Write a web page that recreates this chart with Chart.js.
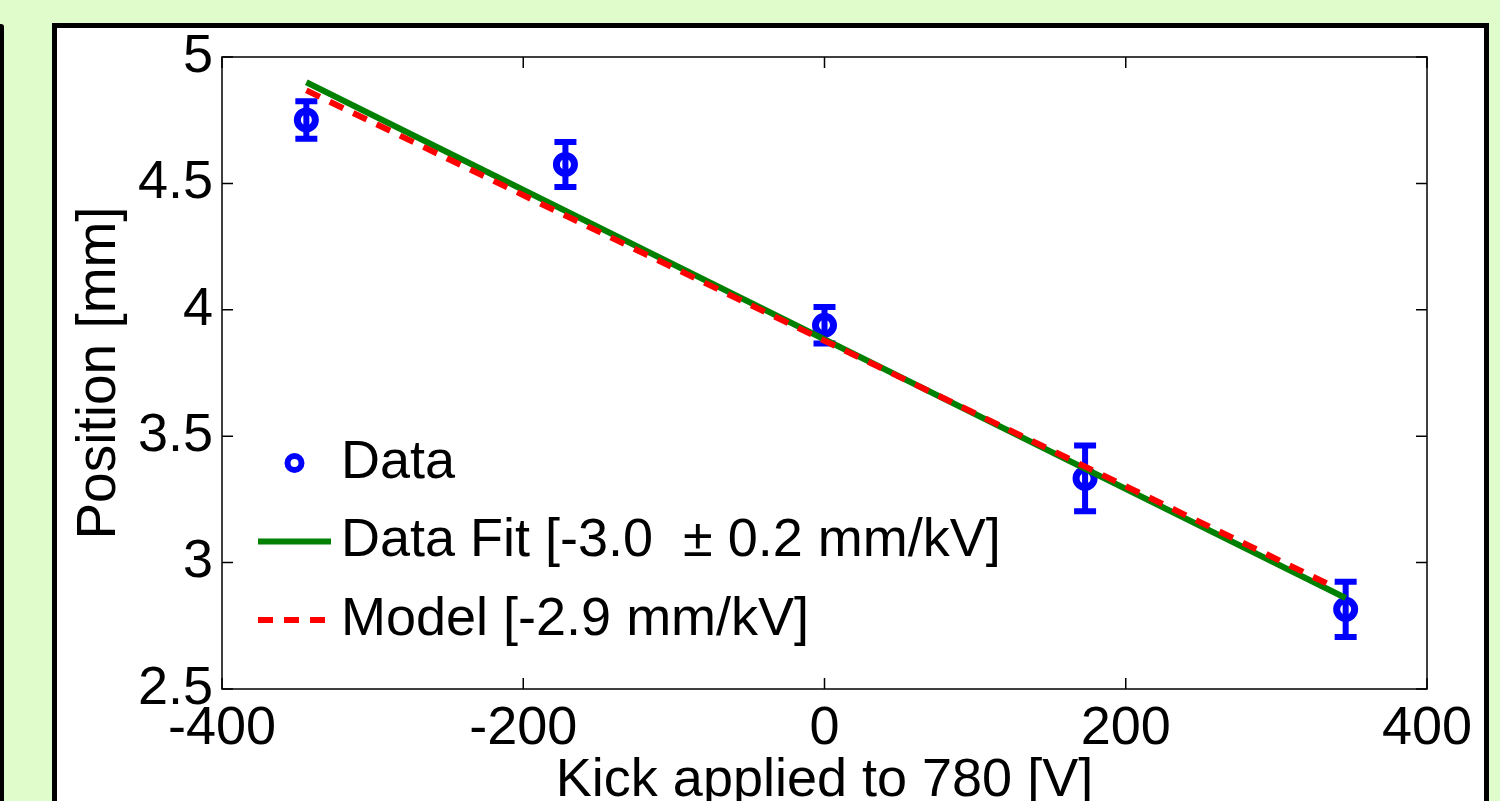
<!DOCTYPE html>
<html>
<head>
<meta charset="utf-8">
<title>Kick scan</title>
<script src="https://cdn.jsdelivr.net/npm/chart.js@4.4.0/dist/chart.umd.min.js"></script>
<style>
  html, body { margin: 0; padding: 0; }
  body { width: 1500px; height: 801px; overflow: hidden; background: #e1fccb; position: relative; }
  #sidebar { position: absolute; left: 0; top: 24px; width: 4px; height: 800px; background: #000; border-top-right-radius: 3px; }
  #frame { position: absolute; left: 52px; top: 23px; width: 1437px; height: 900px; box-sizing: border-box; border: 5px solid #000; background: #fff; }
  #plot { position: absolute; left: 0; top: 0; }
</style>
</head>
<body>
<div id="sidebar"></div>
<div id="frame"></div>
<canvas id="plot" width="1500" height="801"></canvas>
<script>
// measured points (kick voltage, beam position, error)
const kickV = [-344, -172, 0, 173, 346];
const positionMm = [4.751, 4.575, 3.939, 3.333, 2.815];
const positionErr = [0.074, 0.089, 0.072, 0.13, 0.109];

// straight lines: fit to the data and model prediction
const fitX = [-344, 346];
const fitY = [4.90, 2.86];
const modelX = [-344, 338];
const modelY = [4.868, 2.905];

const xTicks = [-400, -200, 0, 200, 400];
const xTickLabels = ['-400', '-200', '0', '200', '400'];
const yTicks = [2.5, 3, 3.5, 4, 4.5, 5];
const yTickLabels = ['2.5', '3', '3.5', '4', '4.5', '5'];

const FONT = "Arial, 'Liberation Sans', Helvetica, sans-serif";

const toPoints = (xs, ys) => xs.map((v, i) => ({ x: v, y: ys[i] }));

// matlab style box with inward ticks on all four sides
const axesBox = {
  id: 'axesBox',
  beforeDatasetsDraw(chart) {
    const { ctx, chartArea: a, scales: { x, y } } = chart;
    const len = 11;
    ctx.save();
    ctx.strokeStyle = '#000';
    ctx.lineWidth = 1.5;
    ctx.strokeRect(a.left, a.top, a.right - a.left, a.bottom - a.top);
    ctx.beginPath();
    x.ticks.forEach(t => {
      const px = x.getPixelForValue(t.value);
      ctx.moveTo(px, a.bottom); ctx.lineTo(px, a.bottom - len);
      ctx.moveTo(px, a.top); ctx.lineTo(px, a.top + len);
    });
    y.ticks.forEach(t => {
      const py = y.getPixelForValue(t.value);
      ctx.moveTo(a.left, py); ctx.lineTo(a.left + len, py);
      ctx.moveTo(a.right, py); ctx.lineTo(a.right - len, py);
    });
    ctx.stroke();

    // error bars go under the markers and lines
    ctx.strokeStyle = '#0000ff';
    ctx.lineWidth = 6;
    ctx.beginPath();
    kickV.forEach((v, i) => {
      const px = x.getPixelForValue(v);
      const top = y.getPixelForValue(positionMm[i] + positionErr[i]);
      const bot = y.getPixelForValue(positionMm[i] - positionErr[i]);
      ctx.moveTo(px, top); ctx.lineTo(px, bot);
      ctx.moveTo(px - 11, top); ctx.lineTo(px + 11, top);
      ctx.moveTo(px - 11, bot); ctx.lineTo(px + 11, bot);
    });
    ctx.stroke();
    ctx.restore();
  }
};

// legend sitting inside the axes, no box
const insideLegend = {
  id: 'insideLegend',
  afterDraw(chart, args, opts) {
    const { ctx } = chart;
    ctx.save();
    ctx.font = opts.fontSize + 'px ' + FONT;
    ctx.textBaseline = 'middle';
    chart.data.datasets.forEach((ds, i) => {
      const yy = opts.top + i * opts.rowGap;
      const x0 = opts.left, x1 = opts.left + opts.sampleWidth;
      ctx.strokeStyle = ds.borderColor;
      if (ds.showLine === false) {
        ctx.lineWidth = 6;
        ctx.beginPath();
        ctx.arc((x0 + x1) / 2, yy, 7, 0, Math.PI * 2);
        ctx.stroke();
      } else {
        ctx.lineWidth = ds.borderWidth;
        ctx.setLineDash(ds.borderDash || []);
        ctx.beginPath();
        ctx.moveTo(x0, yy); ctx.lineTo(x1, yy);
        ctx.stroke();
        ctx.setLineDash([]);
      }
      ctx.fillStyle = '#000';
      ctx.fillText(ds.label, opts.textX, yy);
    });
    ctx.restore();
  }
};

new Chart(document.getElementById('plot'), {
  type: 'scatter',
  data: {
    datasets: [
      {
        label: 'Data',
        data: toPoints(kickV, positionMm),
        showLine: false,
        borderColor: '#0000ff',
        backgroundColor: 'rgba(0,0,0,0)',
        pointRadius: 9,
        pointBorderWidth: 7,
        order: 3
      },
      {
        label: 'Data Fit [-3.0  \u00B1 0.2 mm/kV]',
        data: toPoints(fitX, fitY),
        showLine: true,
        borderColor: '#008000',
        borderWidth: 6,
        pointRadius: 0,
        order: 2
      },
      {
        label: 'Model [-2.9 mm/kV]',
        data: toPoints(modelX, modelY),
        showLine: true,
        borderColor: '#ff0000',
        borderWidth: 6,
        borderDash: [15, 11],
        pointRadius: 0,
        order: 1
      }
    ]
  },
  options: {
    responsive: false,
    animation: false,
    layout: { padding: { left: 0, top: 57, right: 73, bottom: 0 } },
    plugins: {
      legend: { display: false },
      tooltip: { enabled: false },
      insideLegend: { left: 258, sampleWidth: 73, textX: 341, top: 463, rowGap: 78.5, fontSize: 54 }
    },
    scales: {
      x: {
        type: 'linear',
        min: -400,
        max: 400,
        afterFit(s) { s.height = 112; },
        afterBuildTicks(s) { s.ticks = xTicks.map(v => ({ value: v })); },
        grid: { display: false, drawTicks: false },
        border: { display: false },
        ticks: {
          color: '#000', font: { family: FONT, size: 54 }, padding: 8, maxRotation: 0, autoSkip: false,
          callback: (v) => xTickLabels[xTicks.indexOf(v)]
        },
        title: {
          display: true,
          text: 'Kick applied to 780 [V]',
          color: '#000',
          font: { family: FONT, size: 54, lineHeight: 0.7 },
          padding: { top: 0, bottom: 1 }
        }
      },
      y: {
        type: 'linear',
        min: 2.5,
        max: 5,
        afterFit(s) { s.width = 222; },
        afterBuildTicks(s) { s.ticks = yTicks.map(v => ({ value: v })); },
        grid: { display: false, drawTicks: false },
        border: { display: false },
        ticks: {
          color: '#000', font: { family: FONT, size: 54 }, padding: 9, autoSkip: false,
          callback: (v) => yTickLabels[yTicks.indexOf(v)]
        },
        title: {
          display: true,
          text: 'Position [mm]',
          color: '#000',
          font: { family: FONT, size: 55, lineHeight: 0.8 },
          padding: { top: 78, bottom: 0 }
        }
      }
    }
  },
  plugins: [axesBox, insideLegend]
});
</script>
</body>
</html>
